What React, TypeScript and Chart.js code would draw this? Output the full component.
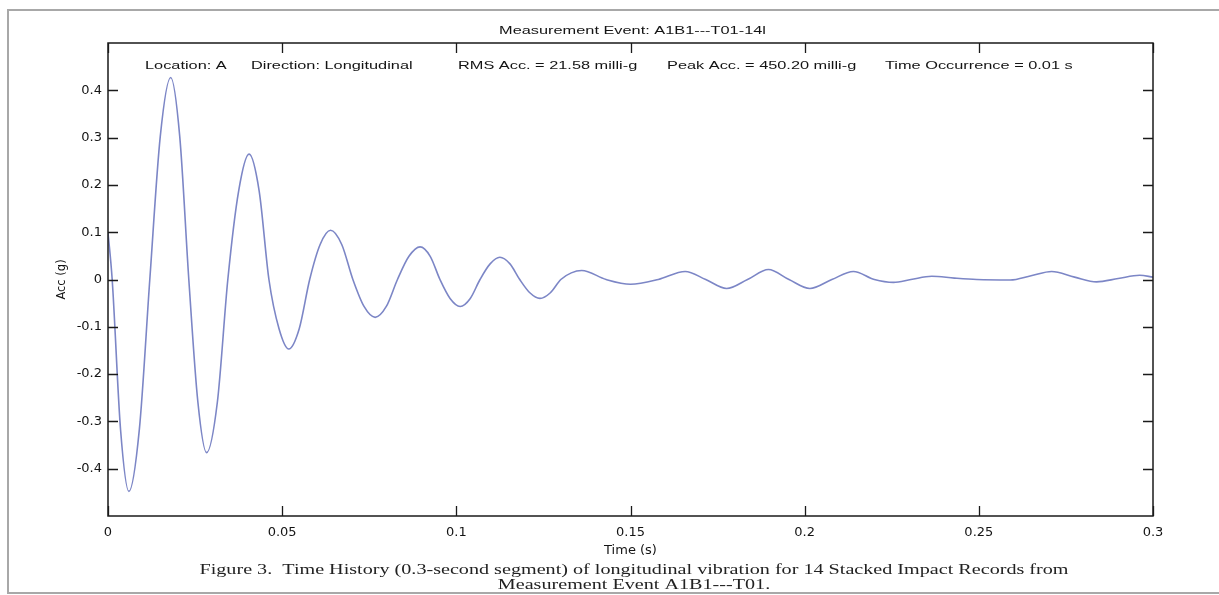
import React, { useEffect, useRef } from 'react';
import { Chart, registerables } from 'chart.js';

Chart.register(...registerables);

// ---- data (peaks, crossings and flank points) ----
const timeS = [
  0, 0.0012, 0.0036, 0.006, 0.009, 0.012, 0.015, 0.018, 0.0206, 0.0232,
  0.0258, 0.0283, 0.0314, 0.0344, 0.0375, 0.0405, 0.0434, 0.0462, 0.0491, 0.0519,
  0.0549, 0.0579, 0.0609, 0.0639, 0.0671, 0.0703, 0.0735, 0.0767, 0.0799, 0.0831,
  0.0864, 0.0896, 0.0925, 0.0953, 0.0982, 0.1011, 0.104, 0.1068, 0.1097, 0.1125,
  0.1154, 0.1182, 0.1211, 0.124, 0.127, 0.13, 0.133, 0.136, 0.143, 0.15,
  0.158, 0.1657, 0.1716, 0.1776, 0.1836, 0.1896, 0.1955, 0.2015, 0.2078, 0.214,
  0.22, 0.2255, 0.2305, 0.2365, 0.243, 0.2494, 0.259, 0.265, 0.2709, 0.2775,
  0.2838, 0.29, 0.2962, 0.3,
];
const accG = [
  0.1, 0, -0.317, -0.448, -0.317, 0, 0.302, 0.427, 0.302, 0,
  -0.259, -0.366, -0.259, 0, 0.187, 0.265, 0.187, 0, -0.104, -0.147,
  -0.104, 0, 0.074, 0.104, 0.074, 0, -0.057, -0.08, -0.057, 0,
  0.049, 0.069, 0.049, 0, -0.04, -0.057, -0.04, 0, 0.033, 0.047,
  0.033, 0, -0.028, -0.04, -0.028, 0, 0.014, 0.019, 0, -0.01,
  0, 0.017, 0, -0.019, 0, 0.021, 0, -0.019, 0, 0.017,
  0, -0.006, 0, 0.007, 0.003, 0, -0.001, 0.008, 0.017, 0.005,
  -0.005, 0.002, 0.009, 0.005,
];
const xTicks = [0, 0.05, 0.1, 0.15, 0.2, 0.25, 0.3];
const yTicks = [-0.4, -0.3, -0.2, -0.1, 0, 0.1, 0.2, 0.3, 0.4];

const titleText = 'Measurement Event: A1B1---T01-14l';
const annotations = [
  'Location: A',
  'Direction: Longitudinal',
  'RMS Acc. = 21.58 milli-g',
  'Peak Acc. = 450.20 milli-g',
  'Time Occurrence = 0.01 s',
];
const xTitle = 'Time (s)';
const yTitle = 'Acc (g)';
const captionLines = [
  'Figure 3.  Time History (0.3-second segment) of longitudinal vibration for 14 Stacked Impact Records from',
  'Measurement Event A1B1---T01.',
];

// ---- layout constants (pixels) ----
const annotationX = [145, 251, 458, 667, 885];
const textColor = '#141414';
const sansStretch = 1.42;
const captionWidth = 869;

const fmt = (v: number) => {
  const r = Math.round(v * 100) / 100;
  return r === 0 ? '0' : String(r);
};

const matlabAxes = {
  id: 'matlabAxes',
  beforeDraw(chart: any) {
    const { ctx } = chart;
    ctx.save();
    ctx.fillStyle = '#ffffff';
    ctx.fillRect(0, 0, chart.width, chart.height);
    // outer scanned page frame
    ctx.strokeStyle = '#a8a8a8';
    ctx.lineWidth = 2;
    ctx.beginPath();
    ctx.moveTo(1219, 10);
    ctx.lineTo(8, 10);
    ctx.lineTo(8, 593);
    ctx.lineTo(1219, 593);
    ctx.stroke();
    ctx.restore();
  },
  afterDraw(chart: any) {
    const { ctx, chartArea: a } = chart;
    const x = chart.scales.x;
    const y = chart.scales.y;
    ctx.save();
    ctx.strokeStyle = '#1a1a1a';
    ctx.lineWidth = 1.5;
    ctx.strokeRect(a.left, a.top, a.right - a.left, a.bottom - a.top);
    ctx.lineWidth = 1.3;
    const L = 10;
    ctx.beginPath();
    x.ticks.forEach((t: any) => {
      const px = Math.round(x.getPixelForValue(t.value)) + 0.5;
      ctx.moveTo(px, a.bottom);
      ctx.lineTo(px, a.bottom - L);
      ctx.moveTo(px, a.top);
      ctx.lineTo(px, a.top + L);
    });
    y.ticks.forEach((t: any) => {
      const py = Math.round(y.getPixelForValue(t.value)) + 0.5;
      ctx.moveTo(a.left, py);
      ctx.lineTo(a.left + L, py);
      ctx.moveTo(a.right, py);
      ctx.lineTo(a.right - L, py);
    });
    ctx.stroke();

    // title and annotation line (stretched Helvetica-like text)
    ctx.fillStyle = textColor;
    ctx.font = '11.5px "Liberation Sans"';
    ctx.textBaseline = 'middle';
    ctx.save();
    ctx.translate((a.left + a.right) / 2 + 2, a.top - 12);
    ctx.scale(sansStretch, 1);
    ctx.textAlign = 'center';
    ctx.fillText(titleText, 0, 0);
    ctx.restore();
    annotations.forEach((s, i) => {
      ctx.save();
      ctx.translate(annotationX[i], a.top + 23);
      ctx.scale(sansStretch, 1);
      ctx.textAlign = 'left';
      ctx.fillText(s, 0, 0);
      ctx.restore();
    });

    // figure caption
    ctx.fillStyle = '#222222';
    ctx.font = '14px "Liberation Serif"';
    const w = ctx.measureText(captionLines[0]).width;
    const sx = captionWidth / w;
    captionLines.forEach((line, i) => {
      ctx.save();
      ctx.translate(634, 570 + i * 15);
      ctx.scale(sx, 1);
      ctx.textAlign = 'center';
      ctx.fillText(line, 0, 0);
      ctx.restore();
    });
    ctx.restore();
  },
};

export default function App() {
  const ref = useRef<HTMLCanvasElement>(null);
  useEffect(() => {
    const tickFont = { family: '"DejaVu Sans"', size: 13 };
    const chart = new Chart(ref.current as HTMLCanvasElement, {
      type: 'line',
      data: {
        datasets: [
          {
            data: timeS.map((t, i) => ({ x: t, y: accG[i] })),
            borderColor: '#7c86c6',
            borderWidth: 1.6,
            pointRadius: 0,
            cubicInterpolationMode: 'monotone',
            fill: false,
          },
        ],
      },
      options: {
        responsive: false,
        animation: false,
        devicePixelRatio: 1,
        layout: { padding: { left: 0, right: 66, top: 43, bottom: 32 } },
        plugins: {
          legend: { display: false },
          tooltip: { enabled: false },
          title: { display: false },
        },
        scales: {
          x: {
            type: 'linear',
            min: 0,
            max: 0.3,
            afterBuildTicks: (s: any) => {
              s.ticks = xTicks.map((v) => ({ value: v }));
            },
            afterFit: (s: any) => {
              s.height = 47;
            },
            grid: { display: false, drawTicks: false },
            border: { display: false },
            ticks: {
              padding: 9,
              maxRotation: 0,
              autoSkip: false,
              color: textColor,
              font: tickFont,
              callback: (v: any) => fmt(Number(v)),
            },
            title: {
              display: true,
              text: xTitle,
              color: textColor,
              font: tickFont,
              padding: { top: 0, bottom: 5 },
            },
          },
          y: {
            type: 'linear',
            min: -0.5,
            max: 0.5,
            afterBuildTicks: (s: any) => {
              s.ticks = yTicks.map((v) => ({ value: v }));
            },
            afterFit: (s: any) => {
              s.width = 108;
            },
            grid: { display: false, drawTicks: false },
            border: { display: false },
            ticks: {
              padding: 6,
              autoSkip: false,
              color: textColor,
              font: tickFont,
              callback: (v: any) => fmt(Number(v)),
            },
            title: {
              display: true,
              text: yTitle,
              color: textColor,
              font: { family: '"DejaVu Sans"', size: 11.5 },
              padding: { top: 55, bottom: 0 },
            },
          },
        },
      },
      plugins: [matlabAxes],
    } as any);
    return () => chart.destroy();
  }, []);
  return (
    <div style={{ position: 'absolute', left: 0, top: 0, width: 1219, height: 595, background: '#fff' }}>
      <canvas ref={ref} width={1219} height={595} style={{ display: 'block', width: 1219, height: 595 }} />
    </div>
  );
}
